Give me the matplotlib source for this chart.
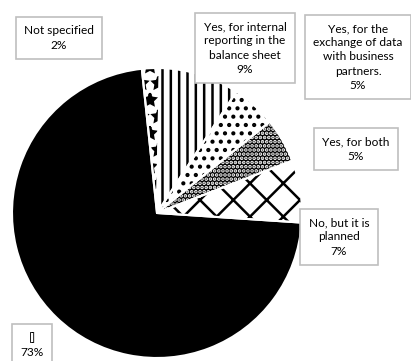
import matplotlib
matplotlib.use('Agg')
import matplotlib.pyplot as plt

labels = ['Not specified', 'Yes, for internal\nreporting in the\nbalance sheet',
          'Yes, for the\nexchange of data\nwith business\npartners.', 'Yes, for both',
          'No, but it is\nplanned', '[]']
values = [2, 9, 5, 5, 7, 73]
faces = ['white', 'white', 'white', 'black', 'white', 'black']
hatch_cols = ['black', 'black', 'black', 'white', 'black', 'black']
hatches = ['*', '||', '..', '....', 'x', None]

# label box centres in pixels (from top-left)
label_pos = [(59, 38), (245, 48), (358, 57), (356, 149), (339, 237), (32, 345)]

W, H = 411, 361
plt.rcParams['hatch.linewidth'] = 1.8
fig = plt.figure(figsize=(W / 100, H / 100), dpi=100)
cx, cy, r = 157, 213, 145
ax = fig.add_axes([(cx - r) / W, (H - cy - r) / H, 2 * r / W, 2 * r / H])

wedges, _ = ax.pie(values, startangle=96, counterclock=False,
                   colors=faces, wedgeprops=dict(linewidth=0))
for w, h, hc in zip(wedges, hatches, hatch_cols):
    w.set_edgecolor(hc)
    if h:
        w.set_hatch(h)
# white separators
ax.pie(values, startangle=96, counterclock=False,
       wedgeprops=dict(fill=False, edgecolor='white', linewidth=1.5))
ax.set_xlim(-1, 1)
ax.set_ylim(-1, 1)
ax.axis('off')

for lab, v, (px, py) in zip(labels, values, label_pos):
    fig.text(px / W, 1 - py / H, f'{lab}\n{v}%', ha='center', va='center',
             fontsize=8.6, family=['Lato', 'DejaVu Sans'], linespacing=1.35,
             bbox=dict(boxstyle='square,pad=0.7', fc='white', ec='#bfbfbf', lw=1.2))

fig.savefig('out.png', dpi=100)
